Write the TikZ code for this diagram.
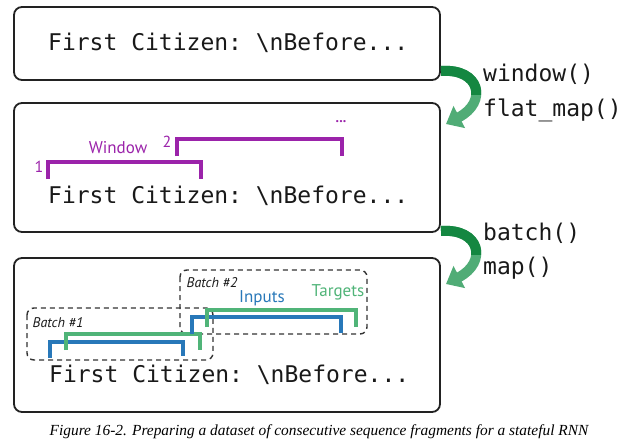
\documentclass[tikz,border=0pt]{standalone}
\usepackage{fontspec}
\setmainfont{Liberation Serif}
\setsansfont{PT Sans}
\setmonofont{DejaVu Sans Mono}
\usetikzlibrary{arrows.meta}
\definecolor{wpurple}{RGB}{155,35,170}
\definecolor{iblue}{RGB}{40,120,185}
\definecolor{tgreen}{RGB}{80,180,120}
\definecolor{adark}{RGB}{20,135,65}
\definecolor{alight}{RGB}{80,172,118}
\definecolor{frame}{RGB}{34,34,34}
\tikzset{
  box/.style={draw=frame, line width=1.8pt, rounded corners=8pt, minimum width=426pt, inner sep=0pt},
  code/.style={font=\ttfamily\fontsize{23}{23}\selectfont, anchor=base west, inner sep=0pt, text=black!90},
  op/.style={font=\ttfamily\fontsize{23}{23}\selectfont, anchor=base west, inner sep=0pt, text=black!90},
  batchbox/.style={draw=black!80, line width=1.4pt, dash pattern=on 5pt off 4pt, rounded corners=7pt},
  brk/.style={line width=4.5pt},
  lbl/.style={font=\sffamily\fontsize{17}{17}\selectfont, inner sep=0pt},
  blbl/.style={font=\sffamily\itshape\fontsize{14}{14}\selectfont, inner sep=0pt, text=black!90},
  num/.style={font=\sffamily\fontsize{16}{16}\selectfont, inner sep=0pt, text=wpurple},
  garrow/.style={line width=10pt, -{Triangle[width=24pt,length=15pt]}},
}
\begin{document}
\begin{tikzpicture}[x=1pt,y=-1pt]
\useasboundingbox (0,0) rectangle (627,445);
\fill[white] (0,0) rectangle (627,445);

% boxes
\node[box, minimum height=73pt] (b1) at (227,43.5) {};
\node[box, minimum height=129pt] (b2) at (227,167.5) {};
\node[box, minimum height=154pt] (b3) at (227,335) {};

% texts
\node[code] (t1) at (48,50) {First Citizen: \textbackslash nBefore...};
\node[code] (t2) at (48,203) {First Citizen: \textbackslash nBefore...};
\node[code] (t3) at (49,382) {First Citizen: \textbackslash nBefore...};

% operation labels
\node[op] (w) at (483,81) {window()};
\node[op] (fm) at (483,116) {flat\_map()};
\node[op] (bt) at (483,240) {batch()};
\node[op] (mp) at (483,274) {map()};

% green curved arrows
\foreach \dy in {0,160}{
  \begin{scope}[yshift=-\dy pt]
    \draw[garrow, alight] (441,71) .. controls (480,68) and (488,102) .. (446,124);
    \begin{scope}
      \clip (430,55) rectangle (500,94);
      \draw[garrow, adark] (441,71) .. controls (480,68) and (488,102) .. (446,124);
    \end{scope}
  \end{scope}
}

% window brackets
\draw[brk, wpurple] (48,179) -- (48,162) -- (201,162) -- (201,179);
\draw[brk, wpurple] (177,156) -- (177,139) -- (342,139) -- (342,156);
\node[num] (n1) at (39,167) {1};
\node[num] (n2) at (167,142) {2};
\node[lbl, text=wpurple] (win) at (118,148) {Window};
\node[num, font=\sffamily\bfseries\fontsize{14}{14}\selectfont] (dots) at (341,122) {...};

% batches
\draw[batchbox] (27,308) rectangle (213,360);
\draw[batchbox] (180,270) rectangle (367,334);
\node[blbl] (bl1) at (58,323) {Batch \#1};
\node[blbl] (bl2) at (212,283) {Batch \#2};
\node[lbl, text=iblue] (inp) at (262,298) {Inputs};
\node[lbl, text=tgreen] (tgt) at (338,292) {Targets};

\draw[brk, iblue] (50,358) -- (50,342) -- (183,342) -- (183,356);
\draw[brk, tgreen] (66,350) -- (66,334) -- (200,334) -- (200,350);
\draw[brk, iblue] (192,334) -- (192,317) -- (341,317) -- (341,333);
\draw[brk, tgreen] (207,327) -- (207,310) -- (356,310) -- (356,327);

% caption
\node[font=\itshape\fontsize{15.4}{15.4}\selectfont, inner sep=0pt] (cap) at (319,432)
  {Figure 16-2. Preparing a dataset of consecutive sequence fragments for a stateful RNN};
\end{tikzpicture}
\end{document}
